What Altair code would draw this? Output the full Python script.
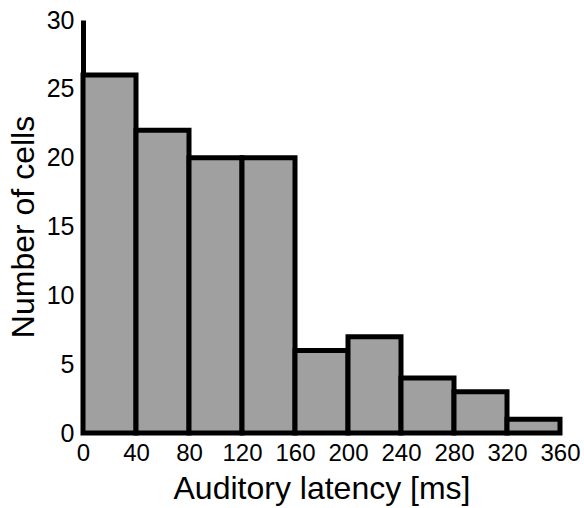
import altair as alt
import pandas as pd

bin_start = [0, 40, 80, 120, 160, 200, 240, 280, 320]
bin_end = [40, 80, 120, 160, 200, 240, 280, 320, 360]
counts = [26, 22, 20, 20, 6, 7, 4, 3, 1]
x_ticks = [0, 40, 80, 120, 160, 200, 240, 280, 320, 360]
y_ticks = [0, 5, 10, 15, 20, 25, 30]

df = pd.DataFrame({"start": bin_start, "end": bin_end, "count": counts})

FONT = "Liberation Sans"

chart = alt.Chart(df).mark_rect(
    fill="#a0a0a0", stroke="black", strokeWidth=5
).encode(
    x=alt.X("start:Q", scale=alt.Scale(domain=[0, 360], nice=False),
            axis=alt.Axis(values=x_ticks, title="Auditory latency [ms]",
                          domain=False, ticks=False, grid=False,
                          labelFontSize=24, labelPadding=8, labelColor="black",
                          labelFont=FONT, titleFont=FONT, titleFontSize=32,
                          titleFontWeight="normal", titleColor="black",
                          titleY=65, titleBaseline="alphabetic",
                          labelFlush=False, labelOverlap=False)),
    x2="end:Q",
    y=alt.Y("count:Q", scale=alt.Scale(domain=[0, 30], nice=False),
            axis=alt.Axis(values=y_ticks, title="Number of cells",
                          domain=True, domainColor="black", domainWidth=5,
                          ticks=False, grid=False,
                          labelFontSize=25, labelPadding=9, labelColor="black",
                          labelFont=FONT, titleFont=FONT, titleFontSize=32,
                          titleFontWeight="normal", titleColor="black",
                          titleX=-50, titleBaseline="alphabetic",
                          labelFlush=False, labelOverlap=False)),
    y2=alt.datum(0),
).properties(
    width=477, height=413,
    background="white",
    autosize=alt.AutoSizeParams(type="none"),
    padding={"left": 83, "top": 20, "right": 24, "bottom": 75},
).configure_view(strokeWidth=0, stroke="transparent")

chart.save("out.html", embed_options={"renderer": "svg", "actions": False})
